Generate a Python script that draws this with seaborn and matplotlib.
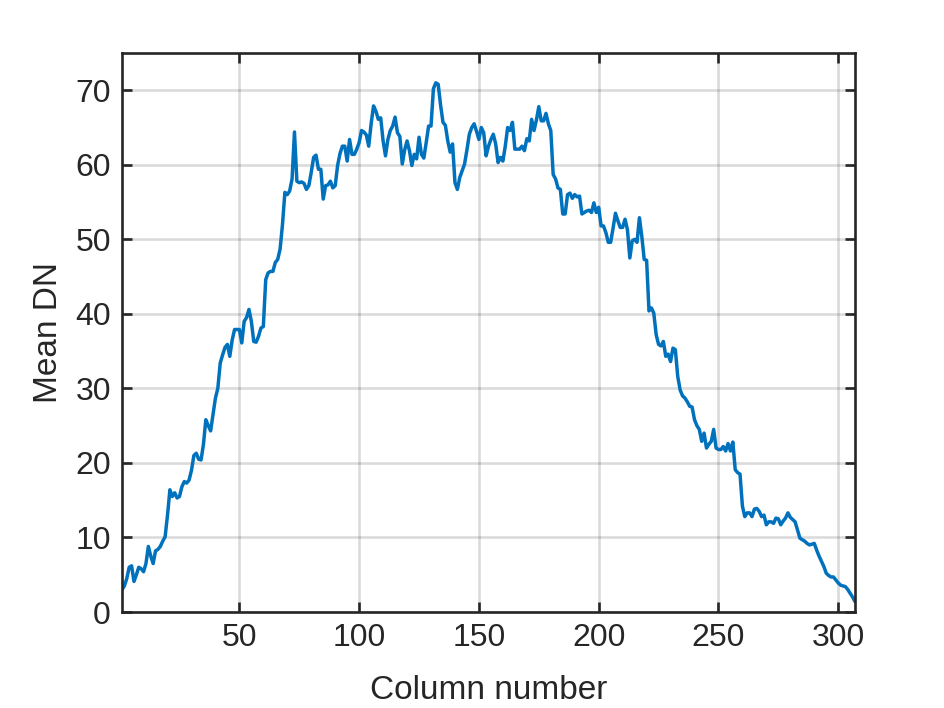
import numpy as np
import pandas as pd
import seaborn as sns
import matplotlib
matplotlib.use("Agg")
import matplotlib.pyplot as plt

sns.set_style("ticks")
plt.rcParams['font.family'] = ['Liberation Sans', 'DejaVu Sans']

# mean DN per column (columns 1..307)
mean_dn = [
    3.0, 3.5, 4.5, 6.0, 6.2, 4.1, 5.0, 6.0, 5.8, 5.4,
    6.5, 8.8, 7.5, 6.5, 8.2, 8.4, 8.8, 9.5, 10.1, 13.0,
    16.4, 15.5, 16.0, 15.3, 15.5, 16.8, 17.5, 17.3, 17.7, 19.0,
    21.0, 21.3, 20.5, 20.4, 22.5, 25.8, 25.0, 24.3, 26.5, 28.7,
    30.0, 33.4, 34.5, 35.5, 35.9, 34.3, 36.5, 37.9, 37.9, 37.9,
    36.1, 39.0, 39.5, 40.6, 39.0, 36.3, 36.2, 37.0, 38.1, 38.3,
    44.6, 45.5, 45.7, 45.7, 46.9, 47.3, 48.7, 52.0, 56.3, 56.0,
    56.5, 58.1, 64.4, 57.8, 57.6, 57.7, 57.5, 56.7, 57.2, 59.0,
    61.0, 61.3, 59.4, 59.4, 55.4, 57.2, 57.3, 57.8, 56.9, 57.2,
    59.9, 61.5, 62.5, 62.5, 60.5, 63.4, 61.4, 61.4, 62.1, 63.0,
    64.6, 64.4, 64.0, 62.5, 65.5, 67.9, 67.2, 66.1, 66.3, 63.2,
    61.2, 63.4, 64.6, 65.2, 66.4, 64.3, 63.8, 60.1, 62.0, 63.2,
    61.9, 59.9, 61.4, 60.8, 63.7, 61.4, 60.9, 63.0, 65.2, 65.2,
    70.2, 71.0, 70.8, 68.0, 65.7, 65.3, 63.2, 61.7, 62.8, 57.6,
    56.7, 58.3, 59.2, 60.1, 62.0, 64.1, 65.0, 65.5, 64.5, 63.4,
    65.0, 64.3, 61.2, 62.5, 63.4, 64.1, 62.8, 60.3, 61.0, 60.5,
    62.5, 65.0, 64.6, 65.7, 62.1, 62.1, 62.1, 62.5, 61.9, 63.5,
    63.2, 66.1, 64.6, 66.0, 67.8, 65.9, 65.9, 66.9, 65.5, 64.6,
    58.7, 58.1, 56.9, 56.7, 53.4, 53.4, 56.0, 56.2, 55.5, 56.0,
    55.7, 55.8, 53.4, 53.6, 53.8, 53.9, 53.6, 54.9, 53.6, 54.3,
    51.8, 51.8, 50.9, 49.6, 49.6, 51.5, 53.5, 52.5, 51.6, 51.6,
    52.7, 51.3, 47.5, 49.8, 50.0, 49.6, 52.9, 50.4, 47.3, 47.2,
    40.4, 40.8, 40.1, 37.2, 35.9, 35.7, 36.3, 34.3, 34.6, 33.6,
    35.4, 35.2, 31.6, 29.8, 29.0, 28.7, 28.2, 27.6, 27.5, 25.8,
    25.0, 24.5, 22.9, 24.0, 22.0, 22.5, 22.9, 24.5, 22.0, 21.8,
    21.8, 22.2, 21.6, 22.6, 21.6, 22.8, 19.1, 18.7, 18.5, 14.2,
    12.8, 13.3, 13.3, 12.8, 13.8, 13.9, 13.5, 12.8, 13.0, 11.7,
    12.1, 12.1, 11.9, 12.6, 12.5, 11.7, 12.2, 12.6, 13.3, 12.7,
    12.4, 12.1, 11.0, 9.9, 9.7, 9.5, 9.2, 9.0, 9.1, 9.2,
    8.3, 7.5, 6.8, 6.1, 5.2, 4.9, 4.7, 4.7, 4.3, 3.9,
    3.6, 3.5, 3.4, 3.0, 2.5, 2.0, 1.4,
]
columns = np.arange(1, len(mean_dn) + 1)

x_ticks = [50, 100, 150, 200, 250, 300]
y_ticks = [0, 10, 20, 30, 40, 50, 60, 70]

df = pd.DataFrame({"Column number": columns, "Mean DN": mean_dn})

fig = plt.figure(figsize=(9.45, 7.08), dpi=100)
ax = fig.add_axes([122 / 945, 96 / 708, 733 / 945, 559 / 708])

sns.lineplot(data=df, x="Column number", y="Mean DN", ax=ax,
             color="#0072BD", linewidth=2.5)

ax.set_xlim(1, 307)
ax.set_ylim(0, 75)
ax.set_xticks(x_ticks)
ax.set_yticks(y_ticks)
ax.grid(True, color="#000000", alpha=0.14, linewidth=1.9)

dark = "#262626"
for s in ax.spines.values():
    s.set_visible(True)
    s.set_linewidth(1.9)
    s.set_color(dark)
ax.tick_params(direction="in", length=7, width=1.9, colors=dark,
               top=True, right=True, labelsize=23, pad=8)
for lab in ax.get_xticklabels() + ax.get_yticklabels():
    lab.set_color(dark)

ax.set_xlabel("Column number", fontsize=24, color=dark, labelpad=16)
ax.set_ylabel("Mean DN", fontsize=24, color=dark, labelpad=8)

fig.savefig("out.png", dpi=100)
